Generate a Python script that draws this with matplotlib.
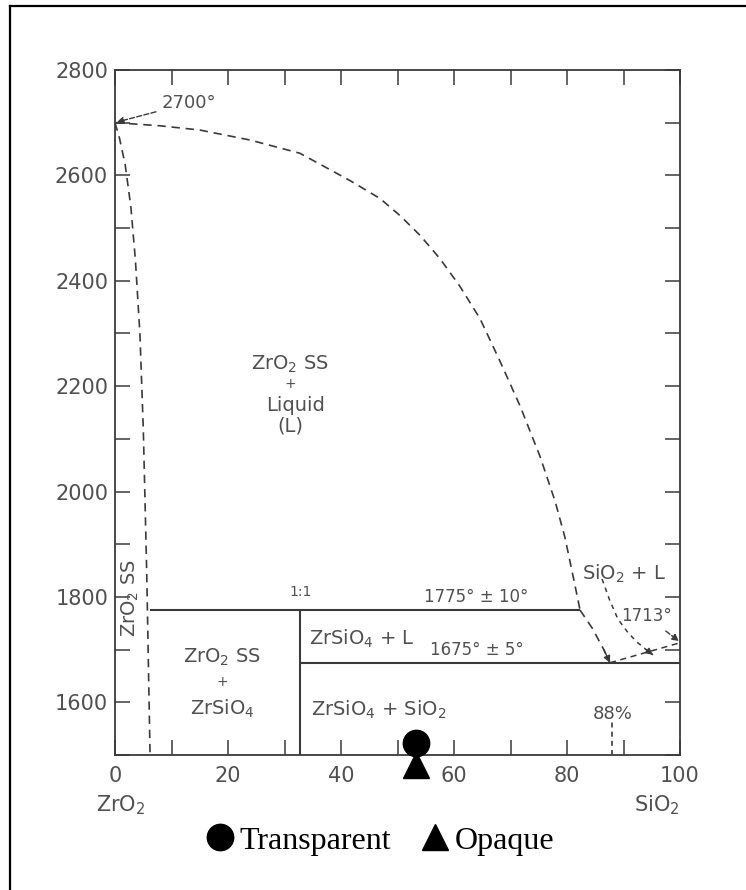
import numpy as np
import matplotlib
matplotlib.use('Agg')
import matplotlib.pyplot as plt
from matplotlib.lines import Line2D
from matplotlib.ticker import MultipleLocator
import matplotlib.transforms as mtransforms

# ZrO2 - SiO2 phase diagram (wt% SiO2 vs temperature, deg C)
INK = '#3a3a3a'
LABEL = '#505050'

# liquidus from the ZrO2 melting point down to the 1775 deg line
liq_x = [0, 8, 15, 23.9, 32.7, 41.6, 46.9, 50.4, 54, 57.5, 61, 64.6, 68.1,
         71.7, 75.2, 77.9, 79.6, 80.9, 81.9, 82.3]
liq_t = [2700, 2694, 2686, 2667, 2642, 2590, 2556, 2524, 2486, 2442, 2390,
         2328, 2248, 2162, 2067, 1981, 1914, 1848, 1796, 1775]

# ZrO2 solid-solution boundary
ss_x = [0, 0.8, 1.8, 2.8, 3.6, 4.4, 5.0, 5.6, 6.2]
ss_t = [2700, 2670, 2620, 2540, 2440, 2300, 2120, 1850, 1500]

# metastable continuation towards the eutectic
low_x = [82.3, 84.5, 86.5, 87.6]
low_t = [1775, 1740, 1700, 1675]

# SiO2 side liquidus curve
cr_x = [86.2, 87.5, 89.0, 90.8, 92.4, 94.0, 95.2]
cr_t = [1834, 1795, 1758, 1732, 1714, 1700, 1690]

# eutectic to SiO2 melting point
eu_x = [87.6, 100]
eu_t = [1675, 1713]

# 88 % marker line
p88_x = [88, 88]
p88_t = [1500, 1565]

# invariant lines
peritectic_t = 1775
peritectic_x = [6.2, 82.3]
eutectic_t = 1675
eutectic_x = [32.8, 100]
zircon_x = 32.8

# samples
sample_x = 53.2
transparent_t = 1523
opaque_t = 1481

xticks = [0, 20, 40, 60, 80, 100]
yticks = [1600, 1800, 2000, 2200, 2400, 2600, 2800]

fig = plt.figure(figsize=(7.46, 8.90), dpi=100)
ax = fig.add_axes([0.1542, 0.1517, 0.7574, 0.7697])

dash = (0, (5, 3.5))
ax.plot(liq_x, liq_t, color=INK, lw=1.2, ls=dash)
ax.plot(ss_x, ss_t, color=INK, lw=1.2, ls=dash)
ax.plot(low_x, low_t, color=INK, lw=1.2, ls=dash)
ax.plot(cr_x, cr_t, color=INK, lw=1.1, ls=(0, (3, 3)))
ax.plot(eu_x, eu_t, color=INK, lw=1.1, ls=(0, (4, 3)))
ax.plot(p88_x, p88_t, color=INK, lw=1.2, ls=(0, (3, 2.5)))

ax.hlines(peritectic_t, *peritectic_x, color=INK, lw=1.5)
ax.hlines(eutectic_t, *eutectic_x, color=INK, lw=1.5)
ax.vlines(zircon_x, 1500, peritectic_t, color=INK, lw=1.5)

# arrow heads on the dashed curves
ax.annotate('', xy=(low_x[-1], low_t[-1]), xytext=(low_x[-2], low_t[-2]),
            arrowprops=dict(arrowstyle='-|>', color=INK, lw=1.0,
                            mutation_scale=10, shrinkA=0, shrinkB=0))
ax.annotate('', xy=(cr_x[-1], cr_t[-1]), xytext=(cr_x[-2], cr_t[-2]),
            arrowprops=dict(arrowstyle='-|>', color=INK, lw=1.0,
                            mutation_scale=10, shrinkA=0, shrinkB=0))

ax.plot([sample_x], [opaque_t], marker='^', ms=19, color='black',
        ls='none', clip_on=False, zorder=5, label='Opaque')
ax.plot([sample_x], [transparent_t], marker='o', ms=19, color='black',
        ls='none', clip_on=False, zorder=6, label='Transparent')

ax.set_xlim(0, 100)
ax.set_ylim(1500, 2800)
ax.set_xticks(xticks)
ax.set_yticks(yticks)
ax.xaxis.set_minor_locator(MultipleLocator(10))
ax.yaxis.set_minor_locator(MultipleLocator(100))
ax.tick_params(which='both', direction='in', top=True, right=True,
               length=11, width=1.1, color=INK)
ax.tick_params(axis='x', which='major', pad=8, labelsize=15, labelcolor=LABEL)
ax.tick_params(axis='y', which='major', pad=5, labelsize=15, labelcolor=LABEL)
for s in ax.spines.values():
    s.set_color(INK)
    s.set_linewidth(1.3)

txt = dict(color=LABEL, fontsize=14, ha='center', va='center')

ax.annotate('2700°', xy=(0.3, 2701), xytext=(8.2, 2737), color=LABEL,
            fontsize=13, ha='left', va='center',
            arrowprops=dict(arrowstyle='-|>', color=INK, lw=1.0, ls='--',
                            mutation_scale=10, shrinkA=2, shrinkB=0))

ax.text(31, 2242, 'ZrO$_2$ SS', **txt)
ax.text(31, 2204, '+', color=LABEL, fontsize=10, ha='center', va='center')
ax.text(32, 2164, 'Liquid', **txt)
ax.text(31, 2124, '(L)', **txt)

ax.text(2.7, 1797, 'ZrO$_2$ SS', rotation=90, **txt)
ax.text(32.8, 1810, '1:1', color=LABEL, fontsize=10, ha='center', va='center')
ax.text(64, 1800, '1775° ± 10°', color=LABEL, fontsize=12, ha='center', va='center')
ax.text(64, 1699, '1675° ± 5°', color=LABEL, fontsize=12, ha='center', va='center')
ax.text(43.6, 1720, 'ZrSiO$_4$ + L', **txt)

ax.text(19, 1686, 'ZrO$_2$ SS', **txt)
ax.text(19, 1638, '+', color=LABEL, fontsize=10, ha='center', va='center')
ax.text(19, 1587, 'ZrSiO$_4$', **txt)

ax.text(46.7, 1585, 'ZrSiO$_4$ + SiO$_2$', **txt)
ax.text(88, 1577, '88%', color=LABEL, fontsize=13, ha='center', va='center')
ax.text(90, 1844, 'SiO$_2$ + L', **txt)

ax.annotate('1713°', xy=(99.8, 1716), xytext=(94, 1764), color=LABEL,
            fontsize=12, ha='center', va='center',
            arrowprops=dict(arrowstyle='-|>', color=INK, lw=1.0, ls='--',
                            mutation_scale=10, shrinkA=4, shrinkB=0))

# end-member names under the composition axis
trans = mtransforms.blended_transform_factory(ax.transData, ax.transAxes)
ax.text(1.0, -0.073, 'ZrO$_2$', transform=trans, color=LABEL, fontsize=15,
        ha='center', va='center')
ax.text(100, -0.073, 'SiO$_2$', transform=trans, color=LABEL, fontsize=15,
        ha='right', va='center')

handles, labels = ax.get_legend_handles_labels()
order = [1, 0]
leg = fig.legend([handles[i] for i in order], [labels[i] for i in order],
                 loc='center', bbox_to_anchor=(0.508, 0.0551), ncol=2,
                 frameon=False, markerscale=1.0, handlelength=1.0,
                 handletextpad=0.1, columnspacing=0.9,
                 prop={'family': 'Liberation Serif', 'size': 23})

# frame lines along the top and left edges
fig.add_artist(Line2D([10 / 746, 1.0], [1 - 6 / 890, 1 - 6 / 890],
                      transform=fig.transFigure, color='black', lw=1.6))
fig.add_artist(Line2D([10 / 746, 10 / 746], [0, 1 - 6 / 890],
                      transform=fig.transFigure, color='black', lw=1.6))

fig.savefig('out.png', dpi=100)
